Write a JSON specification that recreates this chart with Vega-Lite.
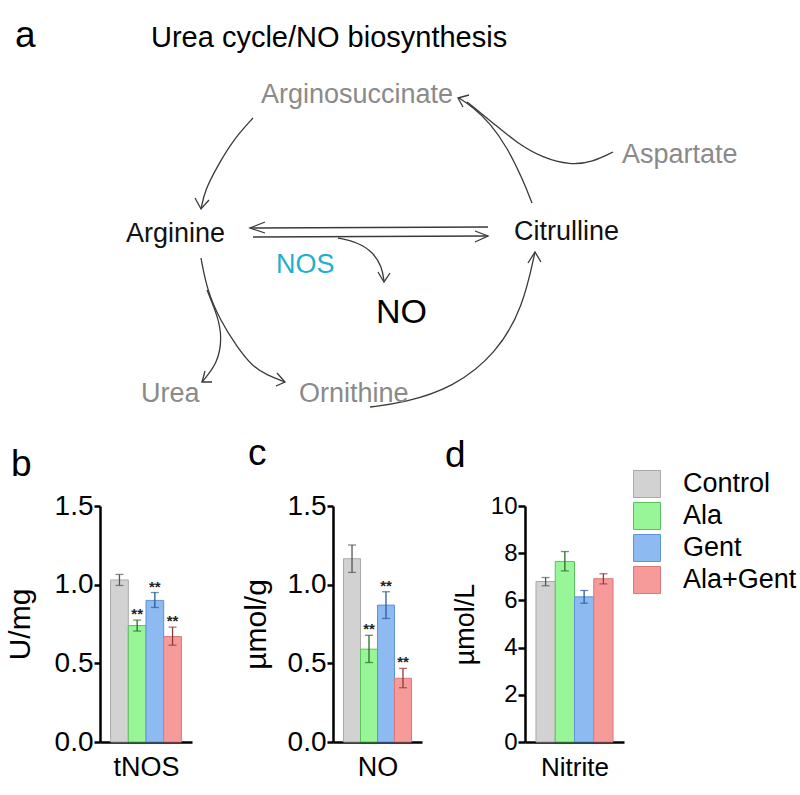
{
  "$schema": "https://vega.github.io/schema/vega-lite/v6.json",
  "padding": 0,
  "background": "white",
  "config": {
    "view": {"stroke": null},
    "font": "Liberation Sans",
    "axis": {"domainColor": "#000", "domainWidth": 2.5, "tickColor": "#000", "tickWidth": 2.5, "tickSize": 6, "labelColor": "#000", "titleColor": "#000", "titleFontWeight": "normal", "labelFont": "Liberation Sans", "titleFont": "Liberation Sans", "grid": false, "labelPadding": 1},
    "legend": {"labelFont": "Liberation Sans", "labelColor": "#000"}
  },
  "datasets": {
    "labels": [
      {"text": "a", "x": 15, "y": 47, "kind": "panel"},
      {"text": "b", "x": 11, "y": 476, "kind": "panel"},
      {"text": "c", "x": 248, "y": 465, "kind": "panel"},
      {"text": "d", "x": 445, "y": 467, "kind": "panel"},
      {"text": "Urea cycle/NO biosynthesis", "x": 151, "y": 47, "kind": "title"},
      {"text": "Arginosuccinate", "x": 261, "y": 103, "kind": "minor"},
      {"text": "Aspartate", "x": 622, "y": 163, "kind": "minor"},
      {"text": "Arginine", "x": 126, "y": 242, "kind": "major"},
      {"text": "Citrulline", "x": 514, "y": 240, "kind": "major"},
      {"text": "NOS", "x": 276, "y": 273, "kind": "enzyme"},
      {"text": "NO", "x": 376, "y": 323, "kind": "product"},
      {"text": "Urea", "x": 141, "y": 402, "kind": "minor"},
      {"text": "Ornithine", "x": 299, "y": 402, "kind": "minor"}
    ],
    "paths": [
      {"id": "c1", "part": "curve", "k": 1, "x": 253, "y": 118},
      {"id": "c1", "part": "curve", "k": 2, "x": 233, "y": 140},
      {"id": "c1", "part": "curve", "k": 3, "x": 217, "y": 167},
      {"id": "c1", "part": "curve", "k": 4, "x": 205, "y": 190},
      {"id": "c1", "part": "curve", "k": 5, "x": 201, "y": 209},
      {"id": "c2", "part": "curve", "k": 1, "x": 532, "y": 203},
      {"id": "c2", "part": "curve", "k": 2, "x": 523, "y": 180},
      {"id": "c2", "part": "curve", "k": 3, "x": 507, "y": 147},
      {"id": "c2", "part": "curve", "k": 4, "x": 490, "y": 123},
      {"id": "c2", "part": "curve", "k": 5, "x": 473, "y": 107},
      {"id": "c2", "part": "curve", "k": 6, "x": 459, "y": 98},
      {"id": "c3", "part": "curve", "k": 1, "x": 613, "y": 152},
      {"id": "c3", "part": "curve", "k": 2, "x": 593, "y": 162},
      {"id": "c3", "part": "curve", "k": 3, "x": 570, "y": 165},
      {"id": "c3", "part": "curve", "k": 4, "x": 543, "y": 158},
      {"id": "c3", "part": "curve", "k": 5, "x": 517, "y": 143},
      {"id": "c3", "part": "curve", "k": 6, "x": 493, "y": 123},
      {"id": "c3", "part": "curve", "k": 7, "x": 477, "y": 110},
      {"id": "c3", "part": "curve", "k": 8, "x": 467, "y": 102},
      {"id": "c4", "part": "curve", "k": 1, "x": 250, "y": 228},
      {"id": "c4", "part": "curve", "k": 2, "x": 488, "y": 227},
      {"id": "c5", "part": "curve", "k": 1, "x": 253, "y": 237},
      {"id": "c5", "part": "curve", "k": 2, "x": 488, "y": 236},
      {"id": "c6", "part": "curve", "k": 1, "x": 338, "y": 238},
      {"id": "c6", "part": "curve", "k": 2, "x": 357, "y": 242},
      {"id": "c6", "part": "curve", "k": 3, "x": 373, "y": 252},
      {"id": "c6", "part": "curve", "k": 4, "x": 382, "y": 267},
      {"id": "c6", "part": "curve", "k": 5, "x": 384, "y": 281},
      {"id": "c7", "part": "curve", "k": 1, "x": 201, "y": 258},
      {"id": "c7", "part": "curve", "k": 2, "x": 207, "y": 290},
      {"id": "c7", "part": "curve", "k": 3, "x": 220, "y": 320},
      {"id": "c7", "part": "curve", "k": 4, "x": 237, "y": 347},
      {"id": "c7", "part": "curve", "k": 5, "x": 253, "y": 367},
      {"id": "c7", "part": "curve", "k": 6, "x": 267, "y": 375},
      {"id": "c7", "part": "curve", "k": 7, "x": 285, "y": 382},
      {"id": "c8", "part": "curve", "k": 1, "x": 207, "y": 290},
      {"id": "c8", "part": "curve", "k": 2, "x": 218, "y": 317},
      {"id": "c8", "part": "curve", "k": 3, "x": 222, "y": 337},
      {"id": "c8", "part": "curve", "k": 4, "x": 218, "y": 363},
      {"id": "c8", "part": "curve", "k": 5, "x": 202, "y": 382},
      {"id": "c9", "part": "curve", "k": 1, "x": 370, "y": 407},
      {"id": "c9", "part": "curve", "k": 2, "x": 403, "y": 403},
      {"id": "c9", "part": "curve", "k": 3, "x": 453, "y": 388},
      {"id": "c9", "part": "curve", "k": 4, "x": 497, "y": 353},
      {"id": "c9", "part": "curve", "k": 5, "x": 523, "y": 307},
      {"id": "c9", "part": "curve", "k": 6, "x": 535, "y": 252},
      {"id": "h1", "part": "head", "k": 1, "x": 195, "y": 198},
      {"id": "h1", "part": "head", "k": 2, "x": 201, "y": 209},
      {"id": "h1", "part": "head", "k": 3, "x": 209, "y": 200},
      {"id": "h2", "part": "head", "k": 1, "x": 469, "y": 95},
      {"id": "h2", "part": "head", "k": 2, "x": 458, "y": 98},
      {"id": "h2", "part": "head", "k": 3, "x": 463, "y": 107},
      {"id": "h3", "part": "head", "k": 1, "x": 265, "y": 222},
      {"id": "h3", "part": "head", "k": 2, "x": 250, "y": 228},
      {"id": "h3", "part": "head", "k": 3, "x": 265, "y": 233},
      {"id": "h4", "part": "head", "k": 1, "x": 475, "y": 231},
      {"id": "h4", "part": "head", "k": 2, "x": 488, "y": 236},
      {"id": "h4", "part": "head", "k": 3, "x": 475, "y": 242},
      {"id": "h5", "part": "head", "k": 1, "x": 378, "y": 272},
      {"id": "h5", "part": "head", "k": 2, "x": 384, "y": 282},
      {"id": "h5", "part": "head", "k": 3, "x": 390, "y": 273},
      {"id": "h6", "part": "head", "k": 1, "x": 277, "y": 373},
      {"id": "h6", "part": "head", "k": 2, "x": 285, "y": 382},
      {"id": "h6", "part": "head", "k": 3, "x": 276, "y": 386},
      {"id": "h7", "part": "head", "k": 1, "x": 205, "y": 371},
      {"id": "h7", "part": "head", "k": 2, "x": 202, "y": 382},
      {"id": "h7", "part": "head", "k": 3, "x": 212, "y": 382},
      {"id": "h8", "part": "head", "k": 1, "x": 528, "y": 263},
      {"id": "h8", "part": "head", "k": 2, "x": 535, "y": 252},
      {"id": "h8", "part": "head", "k": 3, "x": 541, "y": 262}
    ],
    "bars": [
      {"assay": "tNOS", "group": "Control", "mean": 1.03, "lo": 0.995, "hi": 1.065, "sig": ""},
      {"assay": "tNOS", "group": "Ala", "mean": 0.74, "lo": 0.705, "hi": 0.775, "sig": "**"},
      {"assay": "tNOS", "group": "Gent", "mean": 0.9, "lo": 0.855, "hi": 0.95, "sig": "**"},
      {"assay": "tNOS", "group": "Ala+Gent", "mean": 0.67, "lo": 0.615, "hi": 0.73, "sig": "**"},
      {"assay": "NO", "group": "Control", "mean": 1.165, "lo": 1.078, "hi": 1.252, "sig": ""},
      {"assay": "NO", "group": "Ala", "mean": 0.59, "lo": 0.505, "hi": 0.678, "sig": "**"},
      {"assay": "NO", "group": "Gent", "mean": 0.87, "lo": 0.785, "hi": 0.955, "sig": "**"},
      {"assay": "NO", "group": "Ala+Gent", "mean": 0.405, "lo": 0.345, "hi": 0.468, "sig": "**"},
      {"assay": "Nitrite", "group": "Control", "mean": 6.8, "lo": 6.62, "hi": 6.97, "sig": ""},
      {"assay": "Nitrite", "group": "Ala", "mean": 7.65, "lo": 7.25, "hi": 8.07, "sig": ""},
      {"assay": "Nitrite", "group": "Gent", "mean": 6.15, "lo": 5.88, "hi": 6.42, "sig": ""},
      {"assay": "Nitrite", "group": "Ala+Gent", "mean": 6.92, "lo": 6.7, "hi": 7.13, "sig": ""}
    ]
  },
  "vconcat": [
    {
      "width": 800,
      "height": 440,
      "data": {"name": "paths"},
      "layer": [
        {
          "transform": [{"filter": "datum.part === 'curve'"}],
          "mark": {"type": "line", "interpolate": "basis", "color": "#3a3a3a", "strokeWidth": 1.3, "clip": false},
          "encoding": {
            "x": {"field": "x", "type": "quantitative", "scale": {"domain": [0, 800], "nice": false, "zero": false}, "axis": null},
            "y": {"field": "y", "type": "quantitative", "scale": {"domain": [0, 440], "reverse": true, "nice": false, "zero": false}, "axis": null},
            "detail": {"field": "id"},
            "order": {"field": "k"}
          }
        },
        {
          "transform": [{"filter": "datum.part === 'head'"}],
          "mark": {"type": "line", "interpolate": "linear", "color": "#3a3a3a", "strokeWidth": 1.3, "clip": false},
          "encoding": {
            "x": {"field": "x", "type": "quantitative", "axis": null},
            "y": {"field": "y", "type": "quantitative", "axis": null},
            "detail": {"field": "id"},
            "order": {"field": "k"}
          }
        },
        {
          "data": {"name": "labels"},
          "transform": [{"filter": "datum.kind === 'panel'"}],
          "mark": {"type": "text", "align": "left", "baseline": "alphabetic", "fontSize": 37, "font": "Liberation Sans", "color": "#000"},
          "encoding": {
            "x": {"field": "x", "type": "quantitative", "axis": null},
            "y": {"field": "y", "type": "quantitative", "axis": null},
            "text": {"field": "text"}
          }
        },
        {
          "data": {"name": "labels"},
          "transform": [{"filter": "datum.kind === 'title'"}],
          "mark": {"type": "text", "align": "left", "baseline": "alphabetic", "fontSize": 29, "font": "Liberation Sans", "color": "#000"},
          "encoding": {
            "x": {"field": "x", "type": "quantitative", "axis": null},
            "y": {"field": "y", "type": "quantitative", "axis": null},
            "text": {"field": "text"}
          }
        },
        {
          "data": {"name": "labels"},
          "transform": [{"filter": "datum.kind === 'major' || datum.kind === 'minor' || datum.kind === 'enzyme'"}],
          "mark": {"type": "text", "align": "left", "baseline": "alphabetic", "fontSize": 27, "font": "Liberation Sans"},
          "encoding": {
            "x": {"field": "x", "type": "quantitative", "axis": null},
            "y": {"field": "y", "type": "quantitative", "axis": null},
            "text": {"field": "text"},
            "color": {"field": "kind", "type": "nominal", "scale": {"domain": ["major", "minor", "enzyme"], "range": ["#111111", "#8a8a8a", "#1fb0cc"]}, "legend": null}
          }
        },
        {
          "data": {"name": "labels"},
          "transform": [{"filter": "datum.kind === 'product'"}],
          "mark": {"type": "text", "align": "left", "baseline": "alphabetic", "fontSize": 34, "font": "Liberation Sans", "color": "#000"},
          "encoding": {
            "x": {"field": "x", "type": "quantitative", "axis": null},
            "y": {"field": "y", "type": "quantitative", "axis": null},
            "text": {"field": "text"}
          }
        }
      ]
    },
    {
      "bounds": "flush",
      "spacing": 0,
      "resolve": {"scale": {"fill": "independent", "stroke": "independent", "color": "independent"}, "legend": {"fill": "independent", "stroke": "independent", "color": "independent"}},
      "hconcat": [
        {"width": 100, "height": 236, "data": {"values": []}, "mark": "point"},
        {
          "bounds": "flush",
          "spacing": 141,
          "resolve": {"scale": {"fill": "independent", "stroke": "independent", "color": "independent"}, "legend": {"fill": "independent", "stroke": "independent", "color": "independent"}},
          "hconcat": [
            {
              "width": 92, "height": 236,
              "data": {"name": "bars"},
              "transform": [{"filter": "datum.assay === 'tNOS'"}],
              "encoding": {
                "x": {"field": "group", "type": "nominal", "sort": ["Control", "Ala", "Gent", "Ala+Gent"], "scale": {"paddingInner": 0, "paddingOuter": 0.6}, "axis": {"labels": false, "ticks": false, "title": "tNOS", "titleFontSize": 27, "titlePadding": 12}}
              },
              "layer": [
                {
                  "mark": {"type": "bar", "strokeWidth": 1},
                  "encoding": {
                    "y": {"field": "mean", "type": "quantitative", "scale": {"domain": [0, 1.5], "nice": false}, "axis": {"values": [0, 0.5, 1, 1.5], "format": ".1f", "title": "U/mg", "titleFontSize": 30, "labelFontSize": 28, "titlePadding": 19}},
                    "fill": {"field": "group", "type": "nominal", "scale": {"domain": ["Control", "Ala", "Gent", "Ala+Gent"], "range": ["#d2d2d2", "#98f598", "#8dbaf0", "#f69a9a"]}, "legend": null},
                    "stroke": {"field": "group", "type": "nominal", "scale": {"domain": ["Control", "Ala", "Gent", "Ala+Gent"], "range": ["#a9a9a9", "#5cc35c", "#5e93d6", "#d87878"]}, "legend": null}
                  }
                },
                {
                  "mark": {"type": "rule", "strokeWidth": 1.3},
                  "encoding": {
                    "y": {"field": "lo", "type": "quantitative"},
                    "y2": {"field": "hi"},
                    "color": {"field": "group", "type": "nominal", "scale": {"domain": ["Control", "Ala", "Gent", "Ala+Gent"], "range": ["#555555", "#2d6b2d", "#2b5a99", "#8a3a3a"]}, "legend": null}
                  }
                },
                {
                  "mark": {"type": "tick", "thickness": 1.3, "size": 8},
                  "encoding": {"y": {"field": "hi", "type": "quantitative"}, "color": {"field": "group", "type": "nominal", "legend": null}}
                },
                {
                  "mark": {"type": "tick", "thickness": 1.3, "size": 8},
                  "encoding": {"y": {"field": "lo", "type": "quantitative"}, "color": {"field": "group", "type": "nominal", "legend": null}}
                },
                {
                  "mark": {"type": "text", "fontSize": 15, "fontWeight": "bold", "baseline": "alphabetic", "dy": -1, "color": "#222222"},
                  "encoding": {"y": {"field": "hi", "type": "quantitative"}, "text": {"field": "sig"}}
                }
              ]
            },
            {
              "bounds": "flush",
              "spacing": 103,
              "resolve": {"scale": {"fill": "independent", "stroke": "independent", "color": "independent"}, "legend": {"fill": "independent", "stroke": "independent", "color": "independent"}},
              "hconcat": [
                {
                  "width": 89, "height": 236,
                  "data": {"name": "bars"},
                  "transform": [{"filter": "datum.assay === 'NO'"}],
                  "encoding": {
                    "x": {"field": "group", "type": "nominal", "sort": ["Control", "Ala", "Gent", "Ala+Gent"], "scale": {"paddingInner": 0, "paddingOuter": 0.62}, "axis": {"labels": false, "ticks": false, "title": "NO", "titleFontSize": 27, "titlePadding": 12}}
                  },
                  "layer": [
                    {
                      "mark": {"type": "bar", "strokeWidth": 1},
                      "encoding": {
                        "y": {"field": "mean", "type": "quantitative", "scale": {"domain": [0, 1.5], "nice": false}, "axis": {"values": [0, 0.5, 1, 1.5], "format": ".1f", "title": "µmol/g", "titleFontSize": 30, "labelFontSize": 28, "titlePadding": 16}},
                        "fill": {"field": "group", "type": "nominal", "scale": {"domain": ["Control", "Ala", "Gent", "Ala+Gent"], "range": ["#d2d2d2", "#98f598", "#8dbaf0", "#f69a9a"]}, "legend": null},
                        "stroke": {"field": "group", "type": "nominal", "scale": {"domain": ["Control", "Ala", "Gent", "Ala+Gent"], "range": ["#a9a9a9", "#5cc35c", "#5e93d6", "#d87878"]}, "legend": null}
                      }
                    },
                    {
                      "mark": {"type": "rule", "strokeWidth": 1.3},
                      "encoding": {
                        "y": {"field": "lo", "type": "quantitative"},
                        "y2": {"field": "hi"},
                        "color": {"field": "group", "type": "nominal", "scale": {"domain": ["Control", "Ala", "Gent", "Ala+Gent"], "range": ["#555555", "#2d6b2d", "#2b5a99", "#8a3a3a"]}, "legend": null}
                      }
                    },
                    {
                      "mark": {"type": "tick", "thickness": 1.3, "size": 8},
                      "encoding": {"y": {"field": "hi", "type": "quantitative"}, "color": {"field": "group", "type": "nominal", "legend": null}}
                    },
                    {
                      "mark": {"type": "tick", "thickness": 1.3, "size": 8},
                      "encoding": {"y": {"field": "lo", "type": "quantitative"}, "color": {"field": "group", "type": "nominal", "legend": null}}
                    },
                    {
                      "mark": {"type": "text", "fontSize": 15, "fontWeight": "bold", "baseline": "alphabetic", "dy": -1, "color": "#222222"},
                      "encoding": {"y": {"field": "hi", "type": "quantitative"}, "text": {"field": "sig"}}
                    }
                  ]
                },
                {
                  "width": 99, "height": 236,
                  "data": {"name": "bars"},
                  "transform": [{"filter": "datum.assay === 'Nitrite'"}],
                  "encoding": {
                    "x": {"field": "group", "type": "nominal", "sort": ["Control", "Ala", "Gent", "Ala+Gent"], "scale": {"paddingInner": 0, "paddingOuter": 0.57}, "axis": {"labels": false, "ticks": false, "title": "Nitrite", "titleFontSize": 26, "titlePadding": 12}}
                  },
                  "layer": [
                    {
                      "mark": {"type": "bar", "strokeWidth": 1},
                      "encoding": {
                        "y": {"field": "mean", "type": "quantitative", "scale": {"domain": [0, 10], "nice": false}, "axis": {"values": [0, 2, 4, 6, 8, 10], "format": "d", "title": "µmol/L", "titleFontSize": 27, "labelFontSize": 24, "titlePadding": 11, "tickSize": 7}},
                        "fill": {"field": "group", "type": "nominal", "scale": {"domain": ["Control", "Ala", "Gent", "Ala+Gent"], "range": ["#d2d2d2", "#98f598", "#8dbaf0", "#f69a9a"]}, "legend": {"orient": "none", "legendX": 108, "legendY": -36, "title": null, "symbolType": "square", "symbolSize": 729, "symbolStrokeColor": "#9a9a9a", "symbolStrokeWidth": 1, "labelFontSize": 27, "rowPadding": 0, "labelOffset": 22}},
                        "stroke": {"field": "group", "type": "nominal", "scale": {"domain": ["Control", "Ala", "Gent", "Ala+Gent"], "range": ["#a9a9a9", "#5cc35c", "#5e93d6", "#d87878"]}, "legend": null}
                      }
                    },
                    {
                      "mark": {"type": "rule", "strokeWidth": 1.3},
                      "encoding": {
                        "y": {"field": "lo", "type": "quantitative"},
                        "y2": {"field": "hi"},
                        "color": {"field": "group", "type": "nominal", "scale": {"domain": ["Control", "Ala", "Gent", "Ala+Gent"], "range": ["#555555", "#2d6b2d", "#2b5a99", "#8a3a3a"]}, "legend": null}
                      }
                    },
                    {
                      "mark": {"type": "tick", "thickness": 1.3, "size": 8},
                      "encoding": {"y": {"field": "hi", "type": "quantitative"}, "color": {"field": "group", "type": "nominal", "legend": null}}
                    },
                    {
                      "mark": {"type": "tick", "thickness": 1.3, "size": 8},
                      "encoding": {"y": {"field": "lo", "type": "quantitative"}, "color": {"field": "group", "type": "nominal", "legend": null}}
                    }
                  ]
                }
              ]
            }
          ]
        }
      ]
    }
  ],
  "bounds": "flush",
  "spacing": 66,
  "resolve": {"scale": {"fill": "independent", "stroke": "independent", "color": "independent"}, "legend": {"fill": "independent", "stroke": "independent", "color": "independent"}}
}
